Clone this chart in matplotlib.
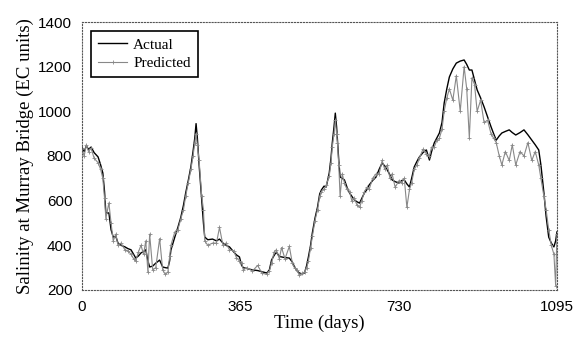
import numpy as np
import matplotlib.pyplot as plt

days = [0, 5, 10, 15, 21, 28, 37, 43, 48, 52, 55, 62, 67, 72, 78, 83, 90, 99, 106, 113,
        119, 124, 130, 136, 142, 147, 152, 156, 163, 170, 179, 186, 192, 198, 202, 205, 214, 221, 228, 234,
        239, 245, 251, 256, 260, 263, 266, 270, 276, 280, 283, 290, 301, 310, 317, 325, 332, 340, 350, 356,
        363, 368, 372, 380, 393, 405, 415, 426, 432, 437, 443, 448, 455, 460, 468, 478, 485, 490, 496, 501,
        508, 513, 518, 522, 527, 531, 537, 543, 548, 552, 558, 563, 570, 574, 577, 581, 584, 587, 589, 592,
        595, 600, 605, 611, 617, 622, 628, 634, 640, 645, 651, 657, 662, 670, 678, 685, 692, 698, 704, 710,
        715, 722, 731, 737, 743, 749, 755, 760, 766, 772, 778, 786, 794, 801, 806, 812, 818, 824, 830, 835,
        841, 847, 855, 863, 872, 881, 887, 893, 899, 905, 911, 919, 927, 935, 943, 949, 955, 962, 968, 976,
        985, 992, 1000, 1010, 1019, 1028, 1037, 1045, 1053, 1058, 1065, 1070, 1076, 1082, 1088, 1092, 1095]

actual = [840, 820, 845, 830, 840, 815, 796, 760, 724, 640, 545, 545, 470, 437, 440, 410, 400, 393, 385, 380,
          360, 343, 352, 366, 372, 380, 330, 303, 307, 320, 334, 303, 300, 298, 330, 379, 437, 480, 527, 580,
          634, 690, 751, 820, 880, 945, 880, 760, 603, 500, 437, 425, 428, 420, 428, 410, 400, 393, 370, 357,
          348, 310, 300, 296, 290, 287, 282, 276, 290, 334, 355, 370, 350, 348, 345, 343, 325, 303, 285, 276,
          272, 276, 310, 348, 400, 455, 520, 571, 630, 648, 665, 661, 724, 790, 858, 930, 992, 930, 871, 780,
          706, 700, 693, 660, 634, 620, 603, 595, 589, 610, 634, 650, 670, 690, 706, 740, 769, 755, 737, 715,
          693, 685, 679, 690, 693, 675, 661, 700, 751, 775, 796, 815, 827, 782, 820, 858, 880, 903, 950, 1037,
          1100, 1154, 1190, 1216, 1225, 1230, 1210, 1185, 1185, 1140, 1096, 1060, 1020, 975, 931, 900, 871, 890, 903, 910,
          917, 905, 894, 905, 917, 895, 871, 850, 827, 760, 634, 530, 437, 410, 393, 420, 460]

predicted = [830, 800, 850, 820, 835, 790, 770, 740, 700, 610, 520, 590, 500, 420, 450, 400, 410, 380, 375, 360,
             340, 330, 370, 400, 360, 420, 280, 450, 290, 300, 430, 290, 270, 280, 350, 400, 460, 470, 520, 560,
             620, 680, 740, 800, 860, 900, 850, 780, 620, 560, 420, 400, 410, 410, 480, 400, 410, 380, 375, 345,
             330, 320, 290, 300, 285, 310, 275, 270, 285, 320, 370, 380, 340, 390, 340, 395, 320, 300, 290, 265,
             275, 280, 300, 330, 390, 440, 510, 560, 620, 640, 650, 670, 710, 770, 840, 900, 960, 900, 860, 760,
             620, 720, 680, 650, 640, 600, 610, 580, 570, 600, 640, 660, 650, 700, 720, 720, 780, 740, 760, 700,
             720, 660, 690, 680, 700, 570, 650, 680, 740, 760, 790, 830, 810, 800, 840, 840, 870, 880, 920, 1000,
             1060, 1100, 1050, 1160, 1000, 1200, 1100, 880, 1150, 1120, 1000, 1050, 950, 960, 900, 880, 860, 800, 760, 820,
             780, 850, 760, 820, 800, 860, 780, 820, 760, 700, 620, 560, 470, 400, 360, 220, 450]

y_ticks = [200, 400, 600, 800, 1000, 1200, 1400]
x_ticks = [0, 365, 730, 1095]

fig = plt.figure(figsize=(5.75, 3.37), dpi=100)
ax = fig.add_axes([0.1426, 0.1395, 0.826, 0.7952])

ax.plot(days, actual, color='black', lw=1.0, label='Actual')
ax.plot(days, predicted, color='#888888', lw=0.8, marker='+', ms=3, mew=0.6, label='Predicted')

ax.set_xlim(0, 1095)
ax.set_ylim(200, 1400)
ax.set_xticks(x_ticks)
ax.set_yticks(y_ticks)
for lab in ax.get_xticklabels() + ax.get_yticklabels():
    lab.set_family('Liberation Sans')
    lab.set_fontsize(11)
ax.tick_params(length=0, pad=7)

for s in ax.spines.values():
    s.set_linestyle(':')
    s.set_color('#555555')
    s.set_linewidth(0.8)

ax.set_xlabel('Time (days)', family='Liberation Serif', fontsize=13.5, labelpad=1)
ax.set_ylabel('Salinity at Murray Bridge (EC units)', family='Liberation Serif', fontsize=13.5, labelpad=3)

leg = ax.legend(loc='upper left', fancybox=False, framealpha=1, edgecolor='black',
                prop={'family': 'Liberation Serif', 'size': 11}, handlelength=1.9,
                borderaxespad=0.6, labelspacing=0.3, handletextpad=0.4, borderpad=0.45)
leg.get_frame().set_linewidth(1.2)

fig.savefig('out.png', dpi=100)
